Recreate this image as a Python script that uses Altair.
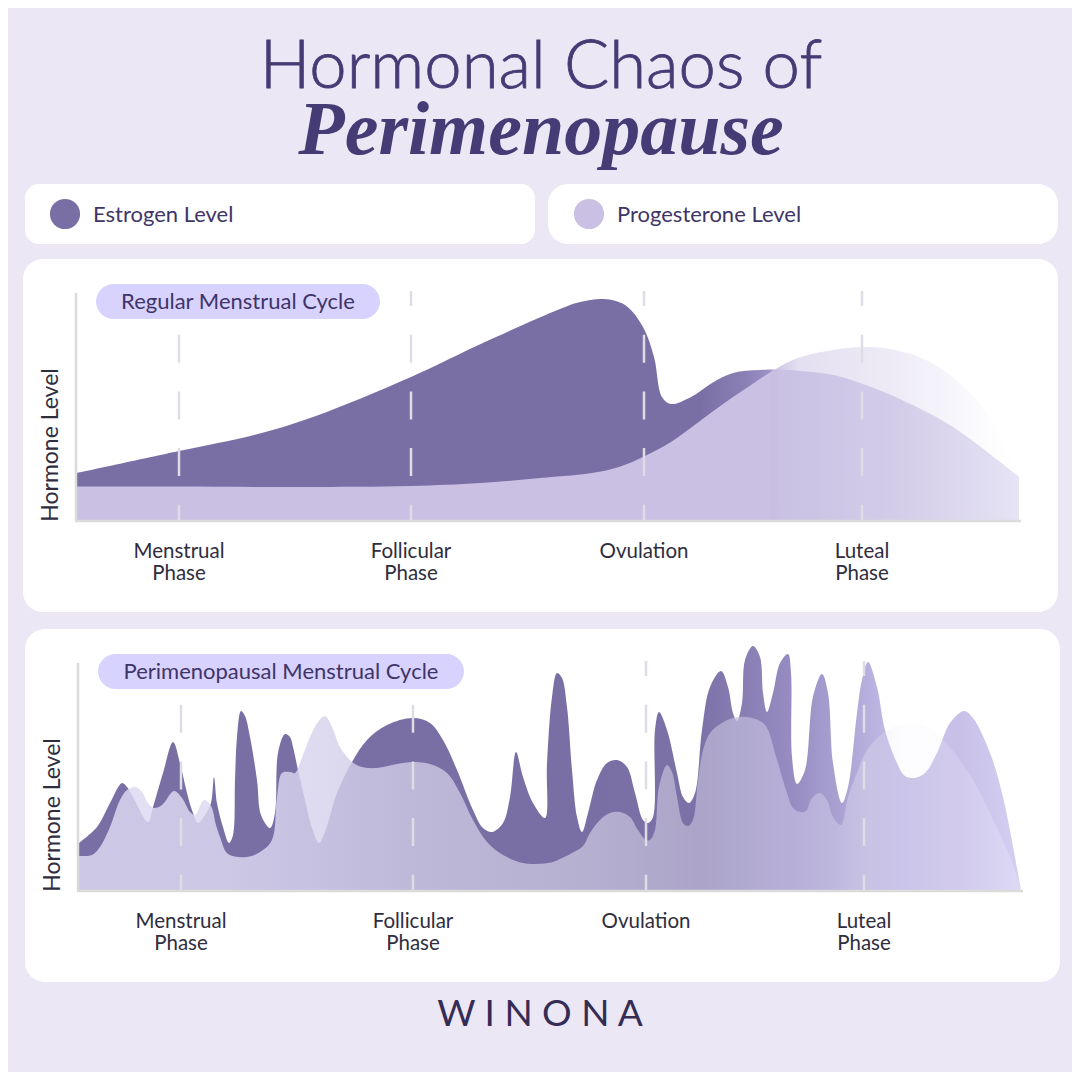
import altair as alt
import pandas as pd

BG = "#ebe7f5"
INK = "#453b75"
TEXT2 = "#3f3568"
DARK = "#2f2d3e"
PILL = "#d8d2ff"
EST = "#7a6fa5"
PRO = "#c9c0e3"
GUIDE = "#dedce4"

phases = ["Menstrual\nPhase", "Follicular\nPhase", "Ovulation", "Luteal\nPhase"]
phase_pos = [102, 334, 567, 785]

reg_est_x = [0,102,177,236,334,408,483,503,527,548,566,577,585,594,614,635,656,683,711,756,783,825,876,942]
reg_est_y = [47,69,85,103,143,178,211,218,221,215,193,163,123,116,123,137,147,150,150,145,137,120,93,43]
reg_pro_x = [0,102,223,334,403,463,515,542,566,594,615,635,656,677,697,721,756,785,807,842,876,911,925,942]
reg_pro_y = [33.5,33.5,33,34,37,42,47,53,63,78,93,108,123,137,150,162,170,173,172,163,143,106,80,43]

per_est_x = [0,18,31,43,48,54,69,74,84,94,101,108,114,119,126,132,135,138,144,150,154,156,158,162,166,171,178,182,191,196,199,206,211,214,219,226,233,240,246,258,273,288,308,334,351,364,378,394,404,413,424,431,437,444,454,466,468,473,478,483,488,493,498,503,509,518,528,538,548,556,564,569,574,576,580,588,598,604,610,616,623,631,642,649,654,658,663,666,674,681,684,688,694,701,709,712,713,718,726,734,743,749,754,763,769,778,783,789,798,806,818,826,835,846,858,871,885,894,911,924,942]
per_est_y = [47,63,87,107,103,93,68,83,117,148,127,97,77,67,75,87,113,87,63,47,55,110,153,179,174,153,110,75,62,77,137,156,153,143,120,90,62,47,58,97,128,150,165,172,167,150,120,80,62,58,67,93,138,113,87,72,127,193,217,212,183,120,73,58,77,110,127,130,123,97,70,67,73,160,178,160,117,93,87,97,160,203,219,203,177,169,187,230,244,233,197,178,197,227,236,217,133,106,120,193,216,197,127,87,103,177,210,228,203,160,127,114,112,117,137,167,179,172,137,93,0]
per_pro_x = [0,13,21,31,41,48,56,63,69,75,83,95,103,111,116,125,132,137,141,149,168,181,193,198,203,211,216,221,231,239,246,253,261,273,283,298,318,334,351,368,381,394,408,424,444,456,474,481,493,504,511,521,531,541,551,559,567,571,576,580,588,593,598,604,609,614,619,624,631,643,654,668,681,688,698,708,714,721,727,733,741,748,754,762,769,778,788,806,824,844,864,881,898,914,931,942]
per_pro_y = [34,35,43,63,90,100,103,98,87,82,85,99,92,78,75,90,84,65,53,36,33,38,50,93,117,118,117,127,153,168,174,163,143,128,123,122,126,128,126,117,97,70,48,35,27,26,28,31,37,44,57,70,77,78,73,60,50,50,60,103,125,118,93,67,64,70,110,140,157,167,172,173,169,162,130,97,82,78,79,92,97,90,73,65,93,117,140,158,166,165,150,130,103,70,33,0]


def grad(stops):
    return alt.Gradient(
        gradient="linear", x1=0, x2=1, y1=0, y2=0,
        stops=[alt.GradientStop(color=c, offset=o) for o, c in stops],
    )


reg_est_fill = grad([(0, EST), (.661, EST), (.709, "#8a80b5"), (.735, "#9c92c8"), (.745, "#cdc6e5"), (.767, "#cdc6e5"), (1, "#e6e3f4")])
reg_pro_fill = grad([(0, "rgba(201,192,227,1)"), (.735, "rgba(201,192,227,1)"), (.767, "rgba(201,192,227,.5)"),
                     (.874, "rgba(201,192,227,.3)"), (.928, "rgba(201,192,227,.15)"), (.98, "rgba(201,192,227,.02)"),
                     (1, "rgba(201,192,227,0)")])
per_est_fill = grad([(0, EST), (.553, EST), (.659, "#7d72a8"), (.712, "#8a80b5"), (.765, "#998fc4"),
                     (.84, "#b8b0de"), (.877, "#c8c2e8"), (.935, "#c8c0e8"), (1, "#d5cff2")])
per_pro_fill = grad([(0, "rgba(220,217,242,.83)"), (.16, "rgba(220,217,242,.83)"), (.26, "rgba(214,210,236,.82)"),
                     (.362, "rgba(206,201,229,.8)"),
                     (.553, "rgba(200,196,222,.75)"), (.659, "rgba(191,186,214,.7)"), (.744, "rgba(196,189,224,.7)"),
                     (.797, "rgba(200,194,228,.65)"), (.84, "rgba(224,225,238,.4)"), (.877, "rgba(232,230,248,.08)"),
                     (.919, "rgba(240,238,251,.2)"), (1, "rgba(240,238,251,.3)")])

one = pd.DataFrame({"n": [0]})


def card(x, x2, y, y2, fill, r):
    return alt.Chart(one).mark_rect(fill=fill, cornerRadius=r).encode(
        x=alt.value(x - 8), x2=alt.value(x2 - 8), y=alt.value(y - 8), y2=alt.value(y2 - 8))


def label(text, x, y, size, color=TEXT2, align="left", **kw):
    return alt.Chart(pd.DataFrame({"t": [text]})).mark_text(
        fontSize=size, color=color, align=align, baseline="alphabetic", font=kw.pop("font", "Lato"), **kw
    ).encode(text="t:N", x=alt.value(x - 8), y=alt.value(y - 8))


def panel(est_x, est_y, pro_x, pro_y, est_fill, pro_fill, x0, base):
    xs = alt.Scale(domain=[0, 942], range=[x0 - 8, x0 + 942 - 8])
    ys = alt.Scale(domain=[0, 230], range=[base - 8, base - 238])
    X = lambda f: alt.X(f, scale=xs, axis=None)
    Y = lambda f: alt.Y(f, scale=ys, axis=None)
    est = alt.Chart(pd.DataFrame({"x": est_x, "y": est_y})).mark_area(
        interpolate="catmull-rom", fill=est_fill).encode(x=X("x:Q"), y=Y("y:Q"), y2=alt.datum(0))
    pro = alt.Chart(pd.DataFrame({"x": pro_x, "y": pro_y})).mark_area(
        interpolate="catmull-rom", fill=pro_fill).encode(x=X("x:Q"), y=Y("y:Q"), y2=alt.datum(0))
    guide_df = pd.DataFrame({"x": phase_pos, "top": [229] * 4, "bot": [0] * 4, "t": phases})
    guides = alt.Chart(guide_df).mark_rule(
        color=GUIDE, strokeWidth=2.5, strokeDash=[28, 28.7], strokeDashOffset=13).encode(
        x=X("x:Q"), y=Y("top:Q"), y2="bot:Q")
    y_axis = alt.Chart(pd.DataFrame({"x": [-1], "top": [227], "bot": [0]})).mark_rule(
        color="#dcdbdc", strokeWidth=2.5).encode(x=X("x:Q"), y=Y("top:Q"), y2="bot:Q")
    x_axis = alt.Chart(pd.DataFrame({"x": [-2], "x2": [944], "y": [-1]})).mark_rule(
        color="#dcdbdc", strokeWidth=2.5).encode(x=X("x:Q"), x2="x2:Q", y=Y("y:Q"))
    ticks = alt.Chart(guide_df).mark_text(
        fontSize=20.5, color=DARK, font="Lato", align="center", baseline="alphabetic",
        lineBreak="\n", lineHeight=22).encode(
        x=X("x:Q"), y=alt.value(base - 8 + 38), text="t:N")
    title = alt.Chart(pd.DataFrame({"t": ["Hormone Level"]})).mark_text(
        fontSize=23, color=DARK, font="Lato", angle=270, align="center", baseline="middle").encode(
        x=alt.value(x0 - 26 - 8), y=alt.value(base - 75 - 8), text="t:N")
    return [est, pro, guides, y_axis, x_axis, ticks, title]


layers = [
    card(25, 535, 184, 244, "#ffffff", 14),
    card(548, 1058, 184, 244, "#ffffff", 20),
    card(23, 1058, 259, 612, "#ffffff", 20),
    card(25, 1060, 629, 982, "#ffffff", 20),
]
layers += panel(reg_est_x, reg_est_y, reg_pro_x, reg_pro_y, reg_est_fill, reg_pro_fill, 77, 520)
layers += panel(per_est_x, per_est_y, per_pro_x, per_pro_y, per_est_fill, per_pro_fill, 79, 890)
layers += [
    card(96, 380, 284, 319, PILL, 17.5),
    card(98, 464, 654, 689, PILL, 17.5),
    label("Regular Menstrual Cycle", 238, 309, 22, align="center"),
    label("Perimenopausal Menstrual Cycle", 281, 679, 22, align="center"),
    alt.Chart(one).mark_point(filled=True, size=908, color=EST, opacity=1).encode(x=alt.value(57), y=alt.value(206)),
    alt.Chart(one).mark_point(filled=True, size=908, color=PRO, opacity=1).encode(x=alt.value(581), y=alt.value(206)),
    label("Estrogen Level", 93, 222, 22),
    label("Progesterone Level", 617, 222, 22),
    label("Hormonal Chaos of", 541, 88, 67, color=INK, align="center", fontWeight=300, stroke=INK, strokeWidth=0.8),
    label("Perimenopause", 541, 154, 76, color=INK, align="center", font="Liberation Serif", fontStyle="italic", fontWeight="bold"),
    label("W I N O N A", 540, 1026, 37, color="#352c55", align="center"),
]

chart = alt.layer(*layers).resolve_scale(x="independent", y="independent").properties(
    width=1064, height=1064, padding=0, background=BG,
    autosize=alt.AutoSizeParams(type="none"),
).configure_view(stroke=None)

chart.save("out.html", embed_options={"renderer": "svg", "actions": False})
